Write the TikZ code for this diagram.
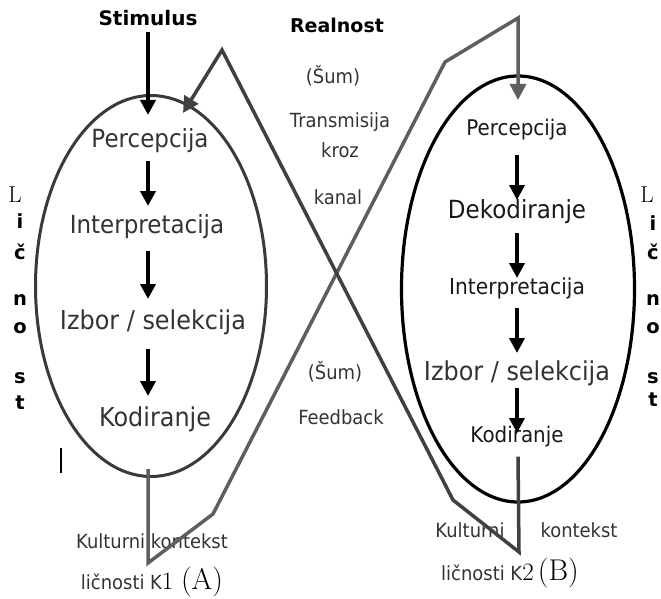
\documentclass[tikz,border=0pt]{standalone}
\usepackage{fontspec}
\newfontfamily\vfont[FakeStretch=0.92]{DejaVu Sans}
\newfontfamily\bvfont{DejaVu Sans}
\usepackage{tikz}
\usetikzlibrary{positioning, arrows.meta, shapes.geometric}

\definecolor{ellA}{HTML}{3A3A3A}
\definecolor{feedA}{HTML}{5E5E5E}
\definecolor{feedB}{HTML}{404040}
\definecolor{txtgray}{HTML}{333333}

\tikzset{
  lbl/.style={font=\vfont\fontsize{25}{28}\selectfont, text=txtgray, inner sep=0pt},
  rbl/.style={font=\vfont\fontsize{21.6}{25}\selectfont, text=black!90, inner sep=0pt},
  mid/.style={font=\vfont\fontsize{19.5}{23}\selectfont, text=txtgray, inner sep=0pt},
  head/.style={font=\bvfont\bfseries\fontsize{19}{22}\selectfont, inner sep=0pt},
  sidel/.style={font=\fontsize{23}{25}\selectfont, inner sep=0pt},
  sideb/.style={font=\bvfont\bfseries\fontsize{19.5}{22}\selectfont, inner sep=0pt},
  flow/.style={line width=4pt, -{Triangle[width=15pt,length=15pt]}},
  feed/.style={line width=3.5pt, line join=miter, -{Triangle[width=16pt,length=16pt]}},
}

\begin{document}
\begin{tikzpicture}[x=1pt, y=-1pt]
    \useasboundingbox (0,0) rectangle (661,599);

    % the two persons
    \node[draw=ellA, line width=3pt, ellipse, minimum width=231pt, minimum height=381pt, inner sep=0pt] (lell) at (151,286) {};
    \node[draw=black, line width=3.2pt, ellipse, minimum width=233pt, minimum height=426pt, inner sep=0pt] (rell) at (518,289) {};

    % sender (A)
    \node[head, font=\bvfont\bfseries\fontsize{20}{22}\selectfont] (stim) at (148,18) {Stimulus};
    \node[lbl] (lp) at (150,141) {Percepcija};
    \node[lbl, below of=lp, node distance=86pt, xshift=-3pt] (li) {Interpretacija};
    \node[lbl, font=\vfont\fontsize{26}{29}\selectfont, below of=li, node distance=95pt, xshift=6pt] (ls) {Izbor / selekcija};
    \node[lbl, font=\vfont\fontsize{26}{29}\selectfont, below of=ls, node distance=97pt, xshift=2pt] (lk) {Kodiranje};

    \draw
        (stim.center) edge[flow, shorten <=14pt, shorten >=26pt] (stim.center |- lp.center)
        (stim.center |- lp.center) edge[flow, shorten <=20pt, shorten >=21pt] (stim.center |- li.center)
        (stim.center |- li.center) edge[flow, shorten <=24pt, shorten >=23pt] (stim.center |- ls.center)
        (stim.center |- ls.center) edge[flow, shorten <=27pt, shorten >=23pt] (stim.center |- lk.center)
        ;

    % receiver (B)
    \node[rbl] (rp) at (517,130) {Percepcija};
    \node[rbl, font=\vfont\fontsize{25}{28}\selectfont, below of=rp, node distance=82pt] (rd) {Dekodiranje};
    \node[rbl, font=\vfont\fontsize{22}{25}\selectfont, below of=rd, node distance=76pt] (ri) {Interpretacija};
    \node[rbl, font=\vfont\fontsize{26}{29}\selectfont, text=txtgray, below of=ri, node distance=85pt] (rs) {Izbor / selekcija};
    \node[rbl, below of=rs, node distance=64pt] (rk) {Kodiranje};

    \draw
        (rp.center) edge[flow, shorten <=25pt, shorten >=12pt] (rd.center)
        (rd.center) edge[flow, shorten <=21pt, shorten >=10pt] (ri.center)
        (ri.center) edge[flow, shorten <=20pt, shorten >=20pt] (rs.center)
        (rs.center) edge[flow, shorten <=15pt, shorten >=4pt] (rk.center)
        ;

    % channel
    \node[head] (real) at (337,25) {Realnost};
    \node[mid] (sum1) at (333,76) {(Šum)};
    \node[mid] (trans) at (340,122) {Transmisija};
    \node[mid, below of=trans, node distance=28pt] (kroz) {kroz};
    \node[mid] (kanal) at (338,197) {kanal};
    \node[mid] (sum2) at (335,372) {(Šum)};
    \node[mid] (fb) at (341,417) {Feedback};

    % culture
    \node[mid, anchor=base] (kulA) at (152,548) {Kulturni kontekst};
    \node[mid, anchor=base] (licA) at (152,589) {ličnosti K{\rmfamily\color{black}\fontsize{25}{26}\selectfont 1 \fontsize{30}{30}\selectfont (A)}};
    \node[mid, anchor=base] (kulB) at (470,537) {Kulturni};
    \node[mid, anchor=base] (konB) at (579,537) {kontekst};
    \node[mid, anchor=base] (licB) at (510,580) {ličnosti K{\rmfamily\color{black}\fontsize{25}{26}\selectfont 2\,\fontsize{30}{30}\selectfont (B)}};

    % Licnost, both sides
    \node[sidel] (ll1) at (15,195) {L};
    \node[sideb] (ll2) at (20,221) {i};
    \node[sideb] (ll3) at (20,252) {č};
    \node[sideb] (ll4) at (20,300) {n};
    \node[sideb] (ll5) at (20,328) {o};
    \node[sideb] (ll6) at (20,378) {s};
    \node[sideb] (ll7) at (20,403) {t};
    \node[sidel] (rl1) at (647,195) {L};
    \node[sideb] (rl2) at (653,223) {i};
    \node[sideb] (rl3) at (653,252) {č};
    \node[sideb] (rl4) at (653,300) {n};
    \node[sideb] (rl5) at (653,328) {o};
    \node[sideb] (rl6) at (653,378) {s};
    \node[sideb] (rl7) at (653,400) {t};

    \draw[line width=2pt] (61,448) -- (61,473);

    % message A -> B
    \coordinate (a1) at (148,563);
    \coordinate (a2) at (213,514);
    \coordinate (a3) at (445,62);
    \coordinate (a4) at (518,18);
    \coordinate (a5) at (518,100);
    \draw[feed, draw=feedA, color=feedA] ([xshift=-3pt, yshift=9pt]lell.south) -- (a1) -- (a2) -- (a3) -- (a4) -- (a5);

    % feedback B -> A
    \coordinate (b1) at (519,552);
    \coordinate (b2) at (453,500);
    \coordinate (b3) at (222,50);
    \coordinate (b4) at (183,113);
    \draw[feed, draw=feedB, color=feedB] ([yshift=47pt]rell.south) -- (b1) -- (b2) -- (b3) -- (b4);

\end{tikzpicture}
\end{document}
